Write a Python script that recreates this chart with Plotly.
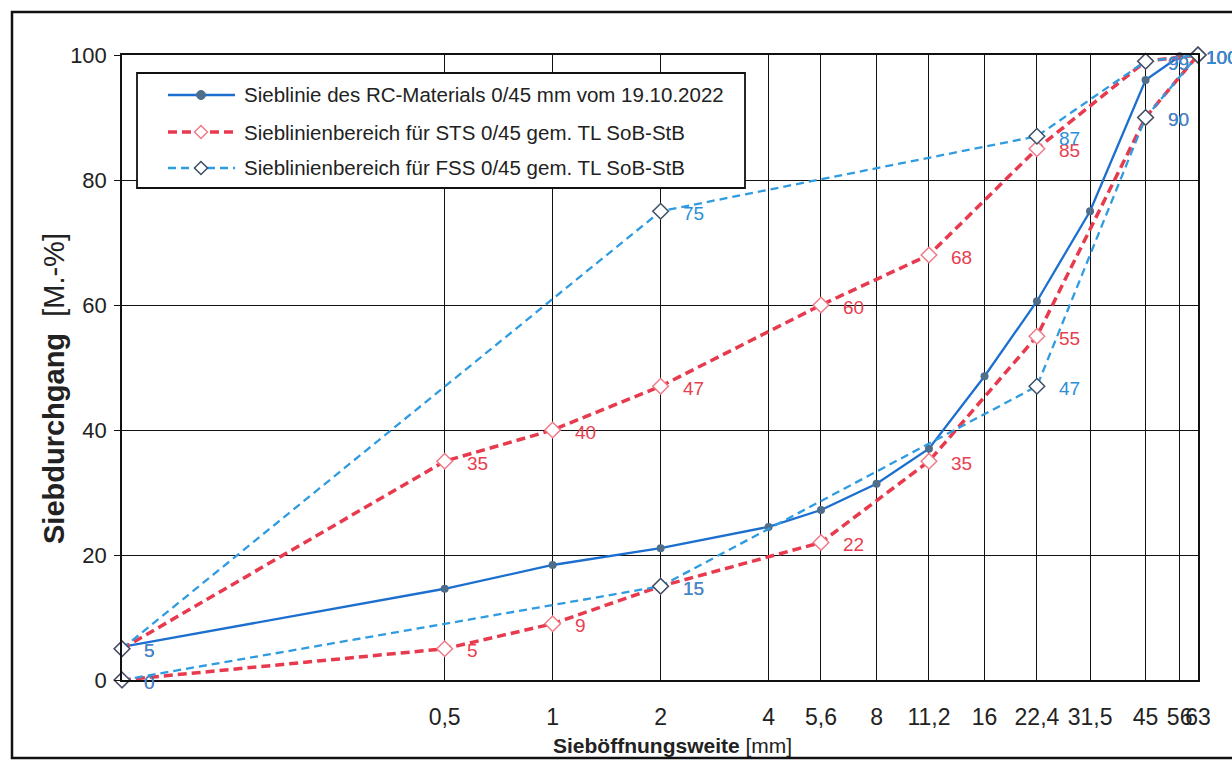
import math
import plotly.graph_objects as go

# ---- data ----
sieve_ticks = [0.063, 0.5, 1, 2, 4, 5.6, 8, 11.2, 16, 22.4, 31.5, 45, 56, 63]
sieve_tick_text = ["", "0,5", "1", "2", "4", "5,6", "8", "11,2", "16", "22,4", "31,5", "45", "56", "63"]

rc_x = [0.063, 0.5, 1, 2, 4, 5.6, 8, 11.2, 16, 22.4, 31.5, 45, 56]
rc_y = [5.3, 14.6, 18.4, 21.1, 24.5, 27.2, 31.4, 37.0, 48.6, 60.6, 75.0, 96.0, 99.8]

sts_x = [0.063, 0.5, 1, 2, 5.6, 11.2, 22.4, 45, 63]
sts_lower = [0, 5, 9, 15, 22, 35, 55, 90, 100]
sts_upper = [5, 35, 40, 47, 60, 68, 85, 99, 100]

fss_x = [0.063, 2, 22.4, 45, 63]
fss_lower = [0, 15, 47, 90, 100]
fss_upper = [5, 75, 87, 99, 100]

y_ticks = [0, 20, 40, 60, 80, 100]

name_rc = "Sieblinie des RC-Materials 0/45 mm vom 19.10.2022"
name_sts = "Sieblinienbereich für STS 0/45 gem. TL SoB-StB"
name_fss = "Sieblinienbereich für FSS 0/45 gem. TL SoB-StB"

# ---- styles / layout constants ----
FONT = "Arial, Liberation Sans, sans-serif"
C_RC = "#1c6fcf"
C_RC_M = "#4f6e8c"
C_STS = "#e83a4e"
C_STS_M = "#f07a88"
C_FSS = "#2f9be0"
C_FSS_M = "#3a4f66"
C_STS_T = "#e8404f"
C_FSS_T = "#2a8fd8"
DASH_STS = "9px,5px"
DASH_FSS = "8px,5px"

W, H = 1232, 760
ML, MR, MT, MB = 122, 34, 55, 80
PW, PH = W - ML - MR, H - MT - MB


def px(xp):
    return (xp - ML) / PW


def py(yp):
    return (H - MB - yp) / PH


fig = go.Figure()

fig.add_trace(go.Scatter(
    x=rc_x, y=rc_y, mode="lines+markers", name=name_rc,
    showlegend=False, cliponaxis=False,
    line=dict(color=C_RC, width=2.3),
    marker=dict(symbol="circle", size=8, color=C_RC_M),
))

for ys in [sts_lower, sts_upper]:
    fig.add_trace(go.Scatter(
        x=sts_x, y=ys, mode="lines+markers", name=name_sts,
        showlegend=False, cliponaxis=False,
        line=dict(color=C_STS, width=3.5, dash=DASH_STS),
        marker=dict(symbol="diamond", size=12, color="white",
                    line=dict(color=C_STS_M, width=1.5)),
    ))

for ys in [fss_lower, fss_upper]:
    fig.add_trace(go.Scatter(
        x=fss_x, y=ys, mode="lines+markers", name=name_fss,
        showlegend=False, cliponaxis=False,
        line=dict(color=C_FSS, width=2.3, dash=DASH_FSS),
        marker=dict(symbol="diamond", size=12, color="white",
                    line=dict(color=C_FSS_M, width=1.5)),
    ))

annotations = []
# data labels (log axis -> annotation x in log10 units)
x_last = max(sieve_ticks)
for xs, series, col in [(sts_x, sts_lower, C_STS_T), (sts_x, sts_upper, C_STS_T),
                        (fss_x, fss_lower, C_FSS_T), (fss_x, fss_upper, C_FSS_T)]:
    for xv, yv in zip(xs, series):
        annotations.append(dict(
            x=math.log10(xv), y=yv, xref="x", yref="y", text=str(yv), showarrow=False,
            xanchor="left", yanchor="middle",
            xshift=(6 if xv == x_last else 20), yshift=-2,
            font=dict(family=FONT, size=19, color=col),
        ))

# axis titles
annotations.append(dict(
    x=px(54), y=py(389), xref="paper", yref="paper", textangle=-90,
    text="<b>Siebdurchgang</b>  [M.-%]", showarrow=False,
    xanchor="center", yanchor="middle",
    font=dict(family=FONT, size=29, color="#222"),
))
annotations.append(dict(
    x=px(672), y=py(745), xref="paper", yref="paper",
    text="<b>Sieböffnungsweite</b> [mm]", showarrow=False,
    xanchor="center", yanchor="middle",
    font=dict(family=FONT, size=21, color="#222"),
))

shapes = [dict(
    type="rect", xref="paper", yref="paper",
    x0=px(12), x1=px(1250), y0=py(758), y1=py(12),
    line=dict(color="#111", width=2.5), fillcolor="rgba(0,0,0,0)", layer="below",
)]

# manual legend (box, samples, texts)
LEG_X0, LEG_X1, LEG_Y0, LEG_Y1 = 137, 745, 73, 188
shapes.append(dict(
    type="rect", xref="paper", yref="paper",
    x0=px(LEG_X0), x1=px(LEG_X1), y0=py(LEG_Y1), y1=py(LEG_Y0),
    line=dict(color="#111", width=1.8), fillcolor="white", layer="above",
))
legend_rows = [
    (name_rc, C_RC, 2.3, "solid", "circle", C_RC_M, C_RC_M),
    (name_sts, C_STS, 3.5, DASH_STS, "diamond", "white", C_STS_M),
    (name_fss, C_FSS, 2.3, DASH_FSS, "diamond", "white", C_FSS_M),
]
row_y = [95, 132, 168]
S_X0, S_X1, S_XM, TXT_X = 168, 235, 201, 242
for (name, lc, lw, dash, sym, mfill, medge), yy in zip(legend_rows, row_y):
    shapes.append(dict(
        type="line", xref="paper", yref="paper",
        x0=px(S_X0), x1=px(S_X1), y0=py(yy), y1=py(yy),
        line=dict(color=lc, width=lw, dash=dash), layer="above",
    ))
    if sym == "circle":
        r = 4.5
        shapes.append(dict(
            type="circle", xref="paper", yref="paper",
            x0=px(S_XM - r), x1=px(S_XM + r), y0=py(yy + r), y1=py(yy - r),
            line=dict(color=medge, width=1), fillcolor=mfill, layer="above",
        ))
    else:
        d = 6.5
        path = (f"M {px(S_XM - d)},{py(yy)} L {px(S_XM)},{py(yy - d)} "
                f"L {px(S_XM + d)},{py(yy)} L {px(S_XM)},{py(yy + d)} Z")
        shapes.append(dict(
            type="path", xref="paper", yref="paper", path=path,
            line=dict(color=medge, width=1.5), fillcolor=mfill, layer="above",
        ))
    annotations.append(dict(
        x=px(TXT_X), y=py(yy), xref="paper", yref="paper", text=name,
        showarrow=False, xanchor="left", yanchor="middle",
        font=dict(family=FONT, size=20.5, color="#222"),
    ))

fig.update_layout(
    width=W, height=H,
    margin=dict(l=ML, r=MR, t=MT, b=MB),
    paper_bgcolor="white", plot_bgcolor="white",
    font=dict(family=FONT, color="#222"),
    showlegend=False,
    annotations=annotations,
    shapes=shapes,
)

fig.update_xaxes(
    type="log", range=[math.log10(0.063), math.log10(63)],
    tickmode="array", tickvals=sieve_ticks, ticktext=sieve_tick_text,
    tickangle=0, ticks="", ticklabelstandoff=16,
    showgrid=True, gridcolor="#111", gridwidth=1.3,
    showline=True, linecolor="#111", linewidth=1.5, mirror=True,
    zeroline=False, tickfont=dict(family=FONT, size=23, color="#222"),
)
fig.update_yaxes(
    range=[0, 100], tickmode="array", tickvals=y_ticks,
    ticks="outside", ticklen=6, tickcolor="#111", tickwidth=1.3,
    ticklabelstandoff=3,
    showgrid=True, gridcolor="#111", gridwidth=1.3,
    showline=True, linecolor="#111", linewidth=1.5, mirror=True,
    zeroline=False, tickfont=dict(family=FONT, size=22, color="#222"),
)

fig.write_html(
    "out.html",
    config={"displayModeBar": False},
    post_script="document.body.style.margin='0';document.body.style.overflow='hidden';",
)
